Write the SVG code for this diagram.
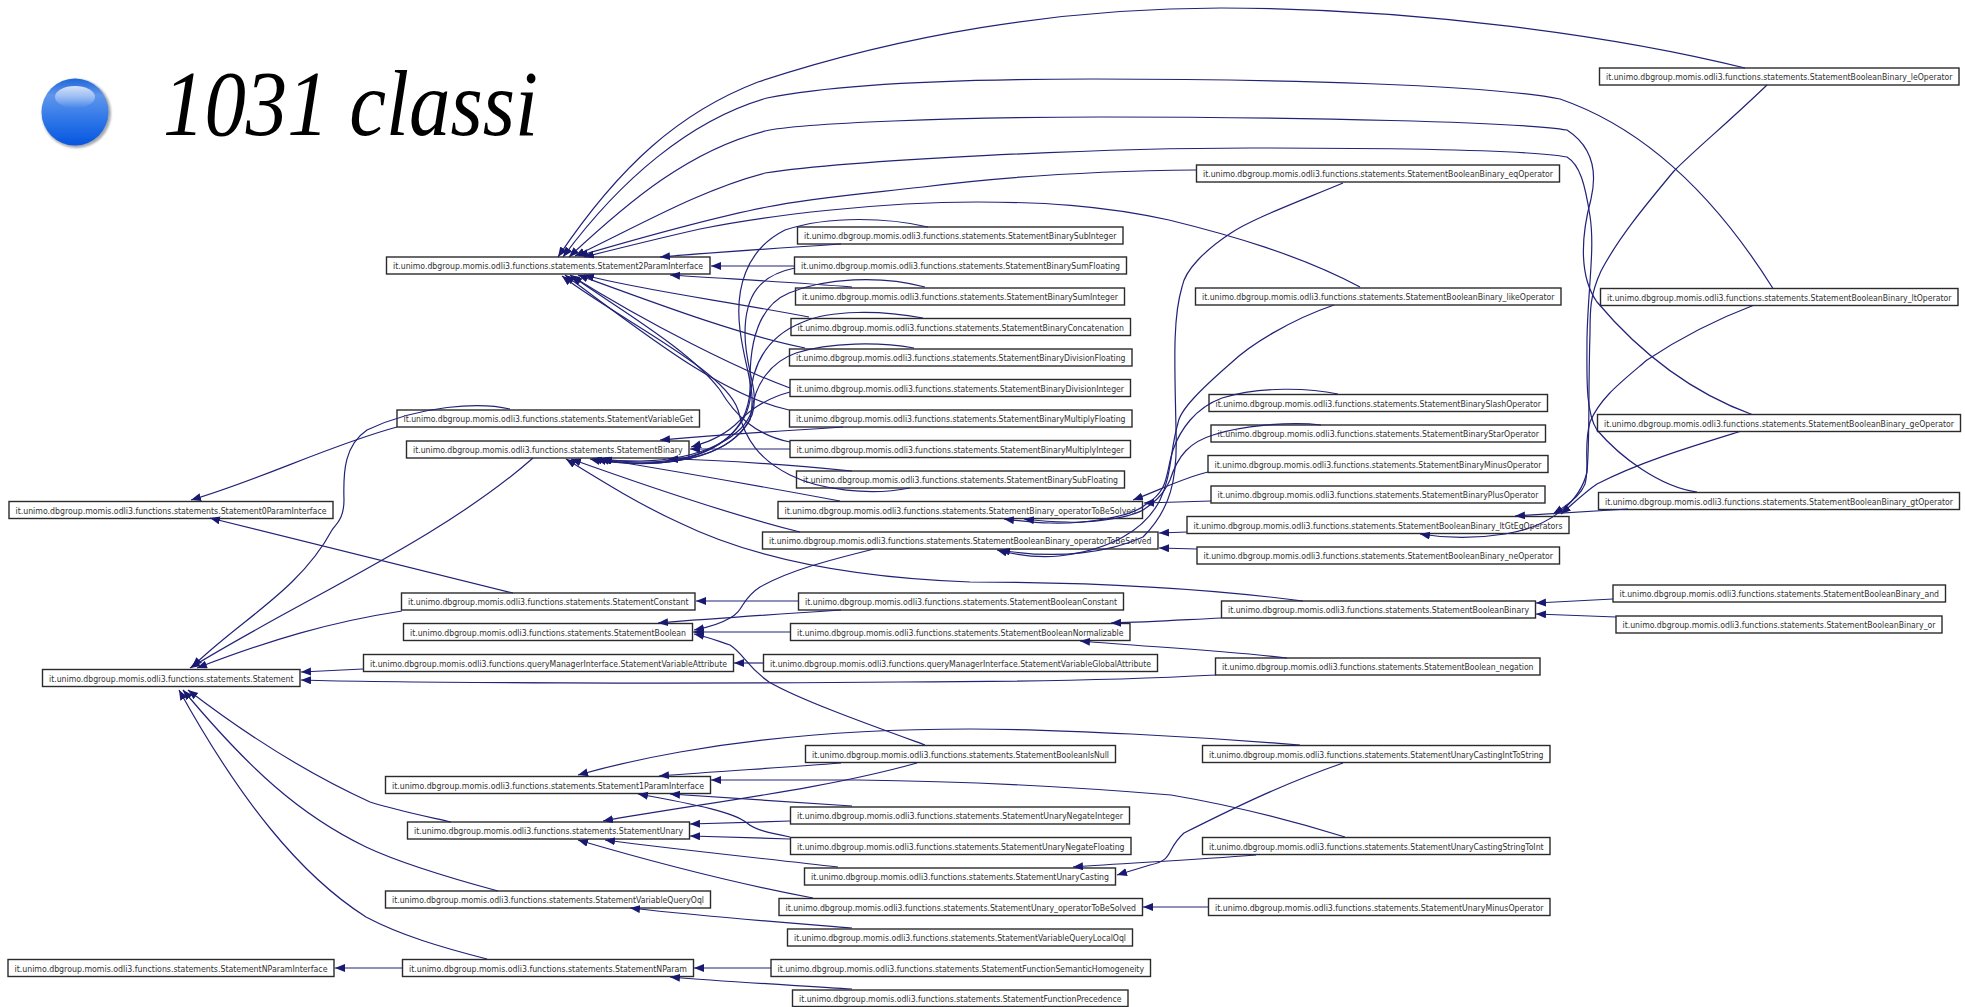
<svg xmlns="http://www.w3.org/2000/svg" width="1965" height="1007" viewBox="0 0 1965 1007">
<style>
.b{fill:#fff;stroke:#2b2b2b;stroke-width:1.4}
.t{font-family:"DejaVu Sans",sans-serif;font-size:9.3px;fill:#303030}
#edges path{fill:none;stroke:#222278;stroke-width:1.2;marker-end:url(#a)}
</style>
<defs>
<marker id="a" markerUnits="userSpaceOnUse" markerWidth="11" markerHeight="9" refX="10" refY="4" orient="auto"><path d="M0,0L10,4L0,8z" fill="#191970"/></marker>
<linearGradient id="ball" x1="0" y1="0" x2="0" y2="1"><stop offset="0" stop-color="#1f66d8"/><stop offset=".25" stop-color="#5f96ec"/><stop offset=".6" stop-color="#3078e8"/><stop offset="1" stop-color="#0655e0"/></linearGradient>
<linearGradient id="hi" x1="0" y1="0" x2="0" y2="1"><stop offset="0" stop-color="#d8e4fa"/><stop offset="1" stop-color="#d8e4fa" stop-opacity="0"/></linearGradient>
<filter id="soft" x="-20%" y="-20%" width="140%" height="140%"><feGaussianBlur stdDeviation="1.2"/></filter>
<filter id="soft2" x="-20%" y="-20%" width="140%" height="140%"><feGaussianBlur stdDeviation=".6"/></filter>
</defs>
<rect width="1965" height="1007" fill="#fff"/>
<g id="bullet">
<circle cx="76.500" cy="113.500" r="34.500" fill="#a5a8ae" filter="url(#soft)"/>
<circle cx="75" cy="112" r="33.500" fill="url(#ball)" filter="url(#soft2)"/>
<ellipse cx="75" cy="97" rx="20" ry="11" fill="url(#hi)"/>
</g>
<text id="title" x="163" y="135" font-family="Liberation Serif,serif" font-style="italic" font-size="93" textLength="375" lengthAdjust="spacingAndGlyphs" fill="#000">1031 classi</text>
<g id="nodes">
<g id="n1"><rect class="b" x="386.500" y="257" width="323.500" height="17"/><text class="t" x="393" y="269" textLength="310" lengthAdjust="spacingAndGlyphs">it.unimo.dbgroup.momis.odli3.functions.statements.Statement2ParamInterface</text></g>
<g id="n2"><rect class="b" x="397" y="410" width="302.500" height="17"/><text class="t" x="403.500" y="422" textLength="289.500" lengthAdjust="spacingAndGlyphs">it.unimo.dbgroup.momis.odli3.functions.statements.StatementVariableGet</text></g>
<g id="n3"><rect class="b" x="406.500" y="441" width="282.500" height="17"/><text class="t" x="413" y="453" textLength="269.500" lengthAdjust="spacingAndGlyphs">it.unimo.dbgroup.momis.odli3.functions.statements.StatementBinary</text></g>
<g id="n4"><rect class="b" x="797.500" y="227" width="325.500" height="17"/><text class="t" x="804" y="239" textLength="312.500" lengthAdjust="spacingAndGlyphs">it.unimo.dbgroup.momis.odli3.functions.statements.StatementBinarySubInteger</text></g>
<g id="n5"><rect class="b" x="794.500" y="257" width="332" height="17"/><text class="t" x="801" y="269" textLength="319" lengthAdjust="spacingAndGlyphs">it.unimo.dbgroup.momis.odli3.functions.statements.StatementBinarySumFloating</text></g>
<g id="n6"><rect class="b" x="795.500" y="288" width="329" height="17"/><text class="t" x="802" y="300" textLength="316" lengthAdjust="spacingAndGlyphs">it.unimo.dbgroup.momis.odli3.functions.statements.StatementBinarySumInteger</text></g>
<g id="n7"><rect class="b" x="791" y="318.500" width="339.500" height="17"/><text class="t" x="797.500" y="330.500" textLength="326.500" lengthAdjust="spacingAndGlyphs">it.unimo.dbgroup.momis.odli3.functions.statements.StatementBinaryConcatenation</text></g>
<g id="n8"><rect class="b" x="789.500" y="349" width="342.500" height="17"/><text class="t" x="796" y="361" textLength="329.500" lengthAdjust="spacingAndGlyphs">it.unimo.dbgroup.momis.odli3.functions.statements.StatementBinaryDivisionFloating</text></g>
<g id="n9"><rect class="b" x="790" y="379.500" width="340.500" height="17"/><text class="t" x="796.500" y="391.500" textLength="327.500" lengthAdjust="spacingAndGlyphs">it.unimo.dbgroup.momis.odli3.functions.statements.StatementBinaryDivisionInteger</text></g>
<g id="n10"><rect class="b" x="789.500" y="410" width="342.500" height="17"/><text class="t" x="796" y="422" textLength="329.500" lengthAdjust="spacingAndGlyphs">it.unimo.dbgroup.momis.odli3.functions.statements.StatementBinaryMultiplyFloating</text></g>
<g id="n11"><rect class="b" x="790" y="440.500" width="340.500" height="17"/><text class="t" x="796.500" y="452.500" textLength="327.500" lengthAdjust="spacingAndGlyphs">it.unimo.dbgroup.momis.odli3.functions.statements.StatementBinaryMultiplyInteger</text></g>
<g id="n12"><rect class="b" x="796.500" y="471" width="328" height="17"/><text class="t" x="803" y="483" textLength="315" lengthAdjust="spacingAndGlyphs">it.unimo.dbgroup.momis.odli3.functions.statements.StatementBinarySubFloating</text></g>
<g id="n13"><rect class="b" x="1196.500" y="165" width="363" height="17"/><text class="t" x="1203" y="177" textLength="350" lengthAdjust="spacingAndGlyphs">it.unimo.dbgroup.momis.odli3.functions.statements.StatementBooleanBinary_eqOperator</text></g>
<g id="n14"><rect class="b" x="1195.500" y="288" width="365.500" height="17"/><text class="t" x="1202" y="300" textLength="352.500" lengthAdjust="spacingAndGlyphs">it.unimo.dbgroup.momis.odli3.functions.statements.StatementBooleanBinary_likeOperator</text></g>
<g id="n15"><rect class="b" x="1599.500" y="68" width="359.500" height="17"/><text class="t" transform="translate(1606,80) scale(.84,1)" textLength="412.500" lengthAdjust="spacingAndGlyphs">it.unimo.dbgroup.momis.odli3.functions.statements.StatementBooleanBinary_leOperator</text></g>
<g id="n16"><rect class="b" x="1600.500" y="288.500" width="357.500" height="17"/><text class="t" transform="translate(1607,300.500) scale(.84,1)" textLength="410.100" lengthAdjust="spacingAndGlyphs">it.unimo.dbgroup.momis.odli3.functions.statements.StatementBooleanBinary_ltOperator</text></g>
<g id="n17"><rect class="b" x="1597.500" y="414.500" width="363" height="17"/><text class="t" transform="translate(1604,426.500) scale(.84,1)" textLength="416.700" lengthAdjust="spacingAndGlyphs">it.unimo.dbgroup.momis.odli3.functions.statements.StatementBooleanBinary_geOperator</text></g>
<g id="n18"><rect class="b" x="1598.500" y="492.500" width="361" height="17"/><text class="t" transform="translate(1605,504.500) scale(.84,1)" textLength="414.300" lengthAdjust="spacingAndGlyphs">it.unimo.dbgroup.momis.odli3.functions.statements.StatementBooleanBinary_gtOperator</text></g>
<g id="n19"><rect class="b" x="1209" y="394.500" width="338.500" height="17"/><text class="t" x="1215.500" y="406.500" textLength="325.500" lengthAdjust="spacingAndGlyphs">it.unimo.dbgroup.momis.odli3.functions.statements.StatementBinarySlashOperator</text></g>
<g id="n20"><rect class="b" x="1211" y="425" width="334.500" height="17"/><text class="t" x="1217.500" y="437" textLength="321.500" lengthAdjust="spacingAndGlyphs">it.unimo.dbgroup.momis.odli3.functions.statements.StatementBinaryStarOperator</text></g>
<g id="n21"><rect class="b" x="1208" y="455.500" width="340" height="17"/><text class="t" x="1214.500" y="467.500" textLength="327" lengthAdjust="spacingAndGlyphs">it.unimo.dbgroup.momis.odli3.functions.statements.StatementBinaryMinusOperator</text></g>
<g id="n22"><rect class="b" x="1211" y="486" width="334" height="17"/><text class="t" x="1217.500" y="498" textLength="321" lengthAdjust="spacingAndGlyphs">it.unimo.dbgroup.momis.odli3.functions.statements.StatementBinaryPlusOperator</text></g>
<g id="n23"><rect class="b" x="1187" y="516.500" width="382" height="17"/><text class="t" x="1193.500" y="528.500" textLength="369" lengthAdjust="spacingAndGlyphs">it.unimo.dbgroup.momis.odli3.functions.statements.StatementBooleanBinary_ltGtEqOperators</text></g>
<g id="n24"><rect class="b" x="1197" y="547" width="362.500" height="17"/><text class="t" x="1203.500" y="559" textLength="349.500" lengthAdjust="spacingAndGlyphs">it.unimo.dbgroup.momis.odli3.functions.statements.StatementBooleanBinary_neOperator</text></g>
<g id="n25"><rect class="b" x="1221.500" y="601" width="314" height="17"/><text class="t" x="1228" y="613" textLength="301" lengthAdjust="spacingAndGlyphs">it.unimo.dbgroup.momis.odli3.functions.statements.StatementBooleanBinary</text></g>
<g id="n26"><rect class="b" x="1613" y="585" width="332.500" height="17"/><text class="t" transform="translate(1619.500,597) scale(.84,1)" textLength="380.400" lengthAdjust="spacingAndGlyphs">it.unimo.dbgroup.momis.odli3.functions.statements.StatementBooleanBinary_and</text></g>
<g id="n27"><rect class="b" x="1616" y="616" width="326" height="17"/><text class="t" transform="translate(1622.500,628) scale(.84,1)" textLength="372.600" lengthAdjust="spacingAndGlyphs">it.unimo.dbgroup.momis.odli3.functions.statements.StatementBooleanBinary_or</text></g>
<g id="n28"><rect class="b" x="778" y="501.500" width="364.500" height="17"/><text class="t" x="784.500" y="513.500" textLength="351.500" lengthAdjust="spacingAndGlyphs">it.unimo.dbgroup.momis.odli3.functions.statements.StatementBinary_operatorToBeSolved</text></g>
<g id="n29"><rect class="b" x="762.500" y="532" width="395.500" height="17"/><text class="t" x="769" y="544" textLength="382.500" lengthAdjust="spacingAndGlyphs">it.unimo.dbgroup.momis.odli3.functions.statements.StatementBooleanBinary_operatorToBeSolved</text></g>
<g id="n30"><rect class="b" x="798.500" y="593" width="325" height="17"/><text class="t" x="805" y="605" textLength="312" lengthAdjust="spacingAndGlyphs">it.unimo.dbgroup.momis.odli3.functions.statements.StatementBooleanConstant</text></g>
<g id="n31"><rect class="b" x="790.500" y="623.500" width="339.500" height="17"/><text class="t" x="797" y="635.500" textLength="326.500" lengthAdjust="spacingAndGlyphs">it.unimo.dbgroup.momis.odli3.functions.statements.StatementBooleanNormalizable</text></g>
<g id="n32"><rect class="b" x="763.500" y="654.500" width="394" height="17"/><text class="t" x="770" y="666.500" textLength="381" lengthAdjust="spacingAndGlyphs">it.unimo.dbgroup.momis.odli3.functions.queryManagerInterface.StatementVariableGlobalAttribute</text></g>
<g id="n33"><rect class="b" x="1215.500" y="658" width="324.500" height="17"/><text class="t" x="1222" y="670" textLength="311.500" lengthAdjust="spacingAndGlyphs">it.unimo.dbgroup.momis.odli3.functions.statements.StatementBoolean_negation</text></g>
<g id="n34"><rect class="b" x="805.500" y="745.500" width="310" height="17"/><text class="t" x="812" y="757.500" textLength="297" lengthAdjust="spacingAndGlyphs">it.unimo.dbgroup.momis.odli3.functions.statements.StatementBooleanIsNull</text></g>
<g id="n35"><rect class="b" x="1202.500" y="745.500" width="347.500" height="17"/><text class="t" x="1209" y="757.500" textLength="334.500" lengthAdjust="spacingAndGlyphs">it.unimo.dbgroup.momis.odli3.functions.statements.StatementUnaryCastingIntToString</text></g>
<g id="n36"><rect class="b" x="790.500" y="807" width="339" height="17"/><text class="t" x="797" y="819" textLength="326" lengthAdjust="spacingAndGlyphs">it.unimo.dbgroup.momis.odli3.functions.statements.StatementUnaryNegateInteger</text></g>
<g id="n37"><rect class="b" x="790.500" y="837.500" width="340.500" height="17"/><text class="t" x="797" y="849.500" textLength="327.500" lengthAdjust="spacingAndGlyphs">it.unimo.dbgroup.momis.odli3.functions.statements.StatementUnaryNegateFloating</text></g>
<g id="n38"><rect class="b" x="1202.500" y="837.500" width="347.500" height="17"/><text class="t" x="1209" y="849.500" textLength="334.500" lengthAdjust="spacingAndGlyphs">it.unimo.dbgroup.momis.odli3.functions.statements.StatementUnaryCastingStringToInt</text></g>
<g id="n39"><rect class="b" x="804.500" y="868" width="311" height="17"/><text class="t" x="811" y="880" textLength="298" lengthAdjust="spacingAndGlyphs">it.unimo.dbgroup.momis.odli3.functions.statements.StatementUnaryCasting</text></g>
<g id="n40"><rect class="b" x="779" y="898.500" width="363.500" height="17"/><text class="t" x="785.500" y="910.500" textLength="350.500" lengthAdjust="spacingAndGlyphs">it.unimo.dbgroup.momis.odli3.functions.statements.StatementUnary_operatorToBeSolved</text></g>
<g id="n41"><rect class="b" x="1208.500" y="898.500" width="341.500" height="17"/><text class="t" x="1215" y="910.500" textLength="328.500" lengthAdjust="spacingAndGlyphs">it.unimo.dbgroup.momis.odli3.functions.statements.StatementUnaryMinusOperator</text></g>
<g id="n42"><rect class="b" x="787.500" y="929" width="345" height="17"/><text class="t" x="794" y="941" textLength="332" lengthAdjust="spacingAndGlyphs">it.unimo.dbgroup.momis.odli3.functions.statements.StatementVariableQueryLocalOql</text></g>
<g id="n43"><rect class="b" x="771" y="959.500" width="379.500" height="17"/><text class="t" x="777.500" y="971.500" textLength="366.500" lengthAdjust="spacingAndGlyphs">it.unimo.dbgroup.momis.odli3.functions.statements.StatementFunctionSemanticHomogeneity</text></g>
<g id="n44"><rect class="b" x="792.500" y="990" width="335.500" height="16.500"/><text class="t" x="799" y="1002" textLength="322.500" lengthAdjust="spacingAndGlyphs">it.unimo.dbgroup.momis.odli3.functions.statements.StatementFunctionPrecedence</text></g>
<g id="n45"><rect class="b" x="9" y="501.500" width="324" height="17"/><text class="t" x="15.500" y="513.500" textLength="311" lengthAdjust="spacingAndGlyphs">it.unimo.dbgroup.momis.odli3.functions.statements.Statement0ParamInterface</text></g>
<g id="n46"><rect class="b" x="401.500" y="593" width="293.500" height="17"/><text class="t" x="408" y="605" textLength="280.500" lengthAdjust="spacingAndGlyphs">it.unimo.dbgroup.momis.odli3.functions.statements.StatementConstant</text></g>
<g id="n47"><rect class="b" x="403.500" y="623.500" width="289" height="17"/><text class="t" x="410" y="635.500" textLength="276" lengthAdjust="spacingAndGlyphs">it.unimo.dbgroup.momis.odli3.functions.statements.StatementBoolean</text></g>
<g id="n48"><rect class="b" x="363.500" y="654.500" width="370" height="17"/><text class="t" x="370" y="666.500" textLength="357" lengthAdjust="spacingAndGlyphs">it.unimo.dbgroup.momis.odli3.functions.queryManagerInterface.StatementVariableAttribute</text></g>
<g id="n49"><rect class="b" x="42.500" y="669.500" width="257.500" height="17"/><text class="t" x="49" y="681.500" textLength="244.500" lengthAdjust="spacingAndGlyphs">it.unimo.dbgroup.momis.odli3.functions.statements.Statement</text></g>
<g id="n50"><rect class="b" x="385.500" y="776.500" width="325" height="17"/><text class="t" x="392" y="788.500" textLength="312" lengthAdjust="spacingAndGlyphs">it.unimo.dbgroup.momis.odli3.functions.statements.Statement1ParamInterface</text></g>
<g id="n51"><rect class="b" x="407.500" y="822" width="282" height="17"/><text class="t" x="414" y="834" textLength="269" lengthAdjust="spacingAndGlyphs">it.unimo.dbgroup.momis.odli3.functions.statements.StatementUnary</text></g>
<g id="n52"><rect class="b" x="385.500" y="891" width="325" height="17"/><text class="t" x="392" y="903" textLength="312" lengthAdjust="spacingAndGlyphs">it.unimo.dbgroup.momis.odli3.functions.statements.StatementVariableQueryOql</text></g>
<g id="n53"><rect class="b" x="8" y="959.500" width="326" height="17"/><text class="t" x="14.500" y="971.500" textLength="313" lengthAdjust="spacingAndGlyphs">it.unimo.dbgroup.momis.odli3.functions.statements.StatementNParamInterface</text></g>
<g id="n54"><rect class="b" x="402.500" y="959.500" width="291" height="17"/><text class="t" x="409" y="971.500" textLength="278" lengthAdjust="spacingAndGlyphs">it.unimo.dbgroup.momis.odli3.functions.statements.StatementNParam</text></g>
</g>
<g id="edges">
<path d="M1745,68C1620,37 1420,8 1221,8C1060,8 900,35 758,82C680,112 620,165 558,257"/>
<path d="M1773,288.500C1720,204 1650,130 1560,99C1490,85 1280,79 1093,79C950,79 830,85 767,98C690,120 620,180 563,257"/>
<path d="M1752,414.500C1690,392 1640,353 1597,302C1580,278 1580,240 1591,199C1598,169 1590,145 1567,130C1520,122 1300,117 1102,117C960,117 800,123 765,131C690,150 630,200 569,257"/>
<path d="M1697,492C1660,487 1620,457 1597,430C1585,412 1587,373 1587,338C1588,288 1595,249 1590,216C1585,184 1580,165 1567,157C1530,150 1400,148 1250,148C1100,148 850,160 765,173C700,190 640,225 575,256"/>
<path d="M1196,170C1100,171 1000,177 923,187C860,194 810,198 767,207C720,216 650,235 578,256"/>
<path d="M1360,287C1300,255 1230,235 1169,220C1100,205 1040,202 977,202C880,202 770,215 700,229C660,238 620,248 584,257"/>
<path d="M841,244C780,248 720,252 660,257"/>
<path d="M795,266L711,266"/>
<path d="M852,287C790,282 730,279 670,275"/>
<path d="M809,317C720,300 640,290 584,275"/>
<path d="M805,348C740,335 660,305 578,275"/>
<path d="M790,388C740,370 650,325 570,275"/>
<path d="M789,410C720,395 640,330 565,275"/>
<path d="M790,442C755,435 735,415 720,390C690,350 620,310 572,276"/>
<path d="M910,488C870,496 820,490 790,475C760,460 745,440 738,410C725,370 620,320 562,276"/>
<path d="M928,227C890,218 830,215 785,230C745,250 735,290 740,330C745,370 757,390 750,420C730,455 680,465 630,463C610,463 600,461 590,459"/>
<path d="M795,268C760,275 745,295 745,333C745,370 760,390 752,415C735,452 690,463 640,463C620,463 605,461 592,459"/>
<path d="M925,287C880,275 825,278 789,293C760,305 750,340 750,380C752,420 730,455 660,463C630,465 610,462 596,459"/>
<path d="M923,318C880,310 830,310 803,322C770,335 752,360 750,400C745,430 715,460 650,462C630,462 610,461 599,459"/>
<path d="M914,348C880,342 830,342 796,353C770,362 755,385 752,410C745,435 705,460 640,461C630,461 615,461 602,459"/>
<path d="M790,392C760,400 745,415 735,425C720,438 705,443 691,447"/>
<path d="M843,427C780,431 720,435 660,440"/>
<path d="M790,449L690,449"/>
<path d="M852,471C790,465 730,460 668,459"/>
<path d="M840,501C770,488 680,472 601,459"/>
<path d="M800,532C760,522 680,498 571,459"/>
<path d="M1303,601C1180,585 1060,582 970,582C860,578 760,562 680,523C640,505 600,480 566,459"/>
<path d="M510,409C480,402 420,405 367,430C345,445 343,470 344,500C344,520 335,525 332,530C300,590 240,620 192,667"/>
<path d="M397,427C330,445 260,480 191,500"/>
<path d="M533,458C440,540 300,600 190,668"/>
<path d="M513,593L210,518"/>
<path d="M402,611C330,622 270,640 197,668"/>
<path d="M363,669L301,672"/>
<path d="M1216,675C1120,680 1000,682 900,682C700,684 400,683 301,680"/>
<path d="M451,822C420,815 395,810 370,802C300,770 240,730 188,690"/>
<path d="M498,891C450,878 400,863 366,847C300,815 250,770 183,690"/>
<path d="M487,959C440,947 400,935 366,917C300,875 240,800 179,690"/>
<path d="M403,968L335,968"/>
<path d="M798,601L696,601"/>
<path d="M841,610C780,614 720,618 658,623"/>
<path d="M790,632L693,632"/>
<path d="M874,549C830,560 790,570 760,587C740,600 745,610 730,618C720,624 705,628 694,630"/>
<path d="M925,745C870,725 800,700 769,682C745,665 745,655 730,645C715,640 705,636 694,634"/>
<path d="M763,663L734,663"/>
<path d="M841,763C780,768 720,771 659,776"/>
<path d="M917,763C820,790 710,802 603,821"/>
<path d="M1300,745C1200,737 1060,729 970,729C860,729 760,738 680,752C640,759 610,766 578,775"/>
<path d="M1343,763C1280,785 1230,810 1184,833C1165,850 1175,860 1150,865C1140,868 1130,871 1117,875"/>
<path d="M1345,837C1290,820 1230,805 1171,795C1050,785 950,781 858,780C800,780 750,780 711,780"/>
<path d="M1256,855C1190,860 1130,863 1073,867"/>
<path d="M852,806C790,802 730,798 670,794"/>
<path d="M790,821L690,824"/>
<path d="M790,839L690,836"/>
<path d="M790,837C770,833 755,830 747,823C735,813 700,805 638,794"/>
<path d="M838,867C760,858 680,850 605,840"/>
<path d="M813,898C760,888 680,870 578,840"/>
<path d="M1208,907L1143,907"/>
<path d="M852,928C790,923 720,918 630,908"/>
<path d="M771,968L694,968"/>
<path d="M852,989C790,985 730,982 670,977"/>
<path d="M1221,618C1180,620 1150,622 1111,623"/>
<path d="M1287,658C1220,650 1150,647 1080,641"/>
<path d="M1613,599L1536,603"/>
<path d="M1616,617L1536,614"/>
<path d="M1187,532L1159,533"/>
<path d="M1197,549L1159,548"/>
<path d="M1343,183C1290,205 1250,220 1231,233C1205,250 1185,270 1182,287C1172,320 1175,370 1176,430C1178,480 1170,510 1143,537C1110,552 1060,560 1000,550"/>
<path d="M1334,305C1290,320 1250,345 1231,363C1200,390 1180,410 1178,423C1170,450 1172,475 1160,500C1145,530 1110,550 1059,556C1040,558 1020,556 997,550"/>
<path d="M1338,394C1310,388 1260,386 1222,398C1195,408 1180,430 1173,450C1165,475 1170,490 1145,505C1130,518 1080,524 1050,523C1035,523 1020,521 1004,519"/>
<path d="M1321,425C1290,421 1240,426 1213,435C1190,442 1178,455 1170,480C1162,498 1150,505 1143,510C1125,520 1080,523 1067,522C1055,522 1040,521 1024,519"/>
<path d="M1208,472C1180,479 1160,490 1133,500"/>
<path d="M1211,501L1144,503"/>
<path d="M1767,85C1720,130 1700,145 1674,171C1650,200 1620,235 1601,271C1590,295 1590,310 1590,333C1588,398 1590,437 1587,472C1580,502 1550,527 1505,534C1480,538 1450,539 1420,534"/>
<path d="M1753,305.500C1720,318 1680,338 1647,360C1620,383 1600,398 1590,422C1583,447 1590,467 1585,484C1580,497 1565,507 1553,514"/>
<path d="M1740,431.500C1690,447 1640,462 1597,484C1585,492 1575,502 1561,514"/>
<path d="M1628,509L1515,516"/>
</g>
</svg>
